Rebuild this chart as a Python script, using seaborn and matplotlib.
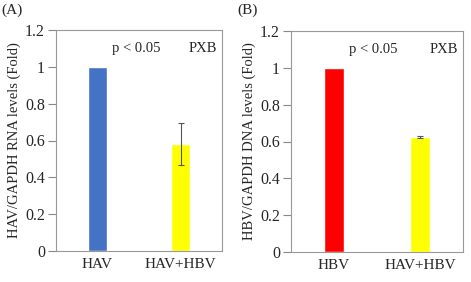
import numpy as np
import pandas as pd
import matplotlib
matplotlib.use("Agg")
import matplotlib.pyplot as plt
import seaborn as sns

# Panel A: HAV RNA
cats_a = ["HAV", "HAV+HBV"]
vals_a = [1.0, 0.58]
errs_a = [0.0, 0.115]
colors_a = ["#4472C4", "#FFFF00"]

# Panel B: HBV DNA
cats_b = ["HBV", "HAV+HBV"]
vals_b = [1.0, 0.625]
errs_b = [0.0, 0.005]
colors_b = ["#FF0000", "#FFFF00"]

yticks = [0, 0.2, 0.4, 0.6, 0.8, 1.0, 1.2]
yticklabels = ["0", "0.2", "0.4", "0.6", "0.8", "1", "1.2"]

sns.set_style("white")
plt.rcParams["font.family"] = ["Liberation Serif", "DejaVu Serif"]

fig = plt.figure(figsize=(4.71, 2.82), dpi=100)
ax_a = fig.add_axes([56 / 471, 1 - 251 / 282, 166 / 471, 221 / 282])
ax_b = fig.add_axes([291 / 471, 1 - 252 / 282, 172 / 471, 221 / 282])


def draw(ax, cats, vals, errs, colors, ylabel, tag, xfig):
    df = pd.DataFrame({"group": cats, "value": vals})
    sns.barplot(data=df, x="group", y="value", hue="group", palette=colors,
                width=0.24, saturation=1, legend=False, ax=ax)
    ax.errorbar(np.arange(len(cats))[1:], vals[1:], yerr=errs[1:], fmt="none",
                ecolor="#555555", elinewidth=0.8, capsize=2, capthick=0.8)
    ax.set_ylim(0, 1.2)
    ax.set_xlim(-0.5, 1.5)
    ax.set_yticks(yticks)
    ax.set_yticklabels(yticklabels, fontsize=11.5)
    ax.tick_params(axis="x", labelsize=11, length=0, pad=5)
    ax.tick_params(axis="y", length=6, width=0.8, color="#888888", direction="out", pad=2, left=True)
    ax.set_xlabel("")
    ax.set_ylabel(ylabel, fontsize=10.5, labelpad=3)
    for sp in ax.spines.values():
        sp.set_color("#999999")
        sp.set_linewidth(0.8)
    ax.text(0.34, 0.915, "p < 0.05", transform=ax.transAxes, fontsize=10.5,
            ha="left", va="center")
    ax.text(0.97, 0.915, "PXB", transform=ax.transAxes, fontsize=10.5,
            ha="right", va="center")
    fig.text(xfig, 1 - 10 / 282, tag, fontsize=11, ha="left", va="center")


draw(ax_a, cats_a, vals_a, errs_a, colors_a, "HAV/GAPDH RNA levels (Fold)", "(A)", 1 / 471)
draw(ax_b, cats_b, vals_b, errs_b, colors_b, "HBV/GAPDH DNA levels (Fold)", "(B)", 237 / 471)

fig.savefig("out.png", dpi=100)
